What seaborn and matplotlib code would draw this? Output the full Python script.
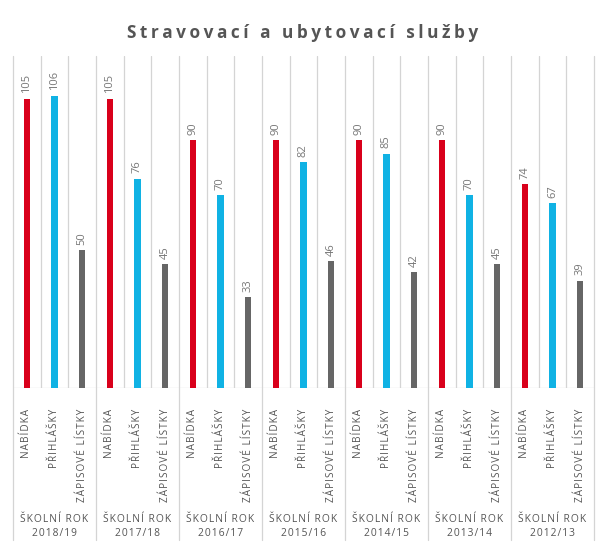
import matplotlib
matplotlib.use("Agg")
import matplotlib.pyplot as plt
import pandas as pd
import seaborn as sns

# data
years = ["2018/19", "2017/18", "2016/17", "2015/16", "2014/15", "2013/14", "2012/13"]
kinds = ["NABÍDKA", "PŘIHLÁŠKY", "ZÁPISOVÉ LÍSTKY"]
nabidka = [105, 105, 90, 90, 90, 90, 74]
prihlasky = [106, 76, 70, 82, 85, 70, 67]
zapisove = [50, 45, 33, 46, 42, 45, 39]

palette = {"NABÍDKA": "#d9001b", "PŘIHLÁŠKY": "#10b2e4", "ZÁPISOVÉ LÍSTKY": "#666666"}
GRID = "#d4d4d4"
TEXT = "#555555"


def spaced(s, sep="\u200a"):
    # the original uses letter spacing; imitate it with hair spaces
    return sep.join(s)


rows = []
for g, year in enumerate(years):
    for k, (kind, vals) in enumerate(zip(kinds, [nabidka, prihlasky, zapisove])):
        rows.append({"pos": str(g * 3 + k), "kind": kind, "value": vals[g], "year": year})
df = pd.DataFrame(rows)
order = [str(i) for i in range(len(df))]

sns.set_theme(style="white")
plt.rcParams["font.family"] = ["Open Sans", "DejaVu Sans"]

W, H = 605, 553
fig = plt.figure(figsize=(W / 100, H / 100), dpi=100)
left, right, top, base = 13, 594, 56, 388
ax = fig.add_axes([left / W, 1 - base / H, (right - left) / W, (base - top) / H])

sns.barplot(data=df, x="pos", y="value", hue="kind", order=order,
            palette=palette, dodge=False, width=0.22, ax=ax,
            legend=False, saturation=1, linewidth=0)

ax.set_xlim(-0.5, len(df) - 0.5)
ax.set_ylim(0, 120.5)
for s in ax.spines.values():
    s.set_visible(False)
ax.set_yticks([])
ax.set_xlabel("")
ax.set_ylabel("")

# column lines, group separators run down through the labels
ext = (540 - base) / (base - top)
for i in range(len(df) + 1):
    if i % 3 == 0:
        ax.axvline(i - 0.5, ymin=-ext, ymax=1, color=GRID, lw=0.9,
                   clip_on=False, zorder=0)
    else:
        ax.axvline(i - 0.5, color=GRID, lw=0.9, zorder=0)
ax.axhline(0, color=GRID, lw=0.9, zorder=0)

# value labels
for i, r in df.iterrows():
    ax.text(i, r["value"] + 2, str(r["value"]), rotation=90, ha="center",
            va="bottom", fontsize=8, color="#777777")

ax.set_xticks(range(len(df)))
ax.set_xticklabels([spaced(k) for k in df["kind"]], rotation=90,
                   fontsize=7.2, color=TEXT)
ax.tick_params(axis="x", length=0, pad=15)

# school-year labels under each group
for g, year in enumerate(years):
    xf = (left + (g * 3 + 1.5) * (right - left) / len(df)) / W
    fig.text(xf, 1 - 520 / H, spaced("ŠKOLNÍ ROK"), ha="center", va="center",
             fontsize=7.4, color=TEXT)
    fig.text(xf, 1 - 534 / H, spaced(year), ha="center", va="center",
             fontsize=7.4, color=TEXT)

fig.text(0.5, 1 - 33 / H, spaced("Stravovací a ubytovací služby", "\u2009"),
         ha="center", va="center", fontsize=12.4, fontweight="bold",
         color="#555555")

fig.savefig("out.png", dpi=100)
